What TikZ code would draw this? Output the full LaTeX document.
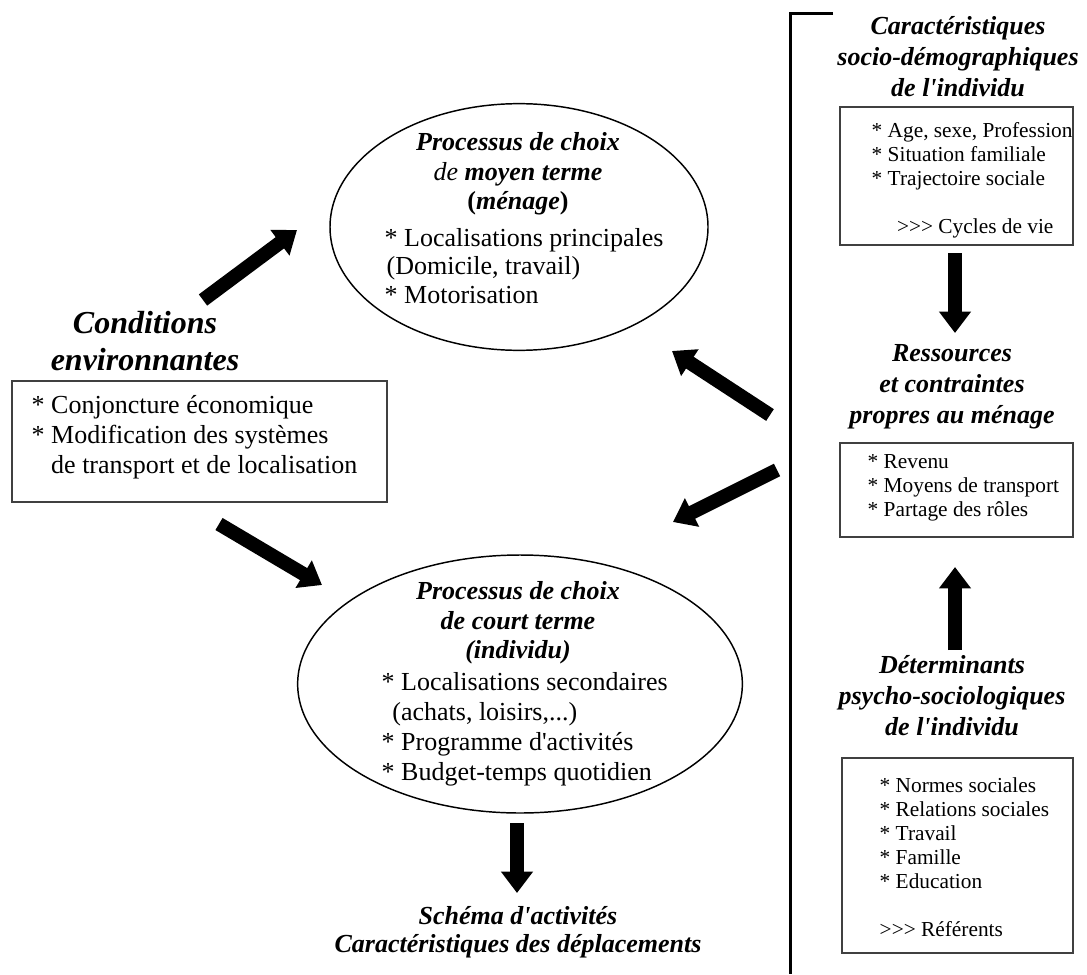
\documentclass[tikz,border=0pt]{standalone}
\usepackage{fontspec}
\setmainfont{Liberation Serif}[Ligatures=TeXOff]
\usetikzlibrary{arrows.meta,shapes.geometric,fit}

\tikzset{
  bigarrow/.style={line width=10.5pt,-{Triangle[width=23pt,length=16pt]}},
  hdtext/.style={font=\fontsize{19.5}{22}\selectfont\bfseries\itshape,align=center},
  rhdtext/.style={font=\fontsize{19.5}{23.2}\selectfont\bfseries\itshape,align=center},
  lsttext/.style={font=\fontsize{19.5}{21.5}\selectfont,align=left,anchor=west},
  smalltext/.style={font=\fontsize{16}{18}\selectfont,align=left,anchor=west},
  listbox/.style={draw=black!75,line width=0.8pt,inner sep=0pt},
  choix/.style={draw,ellipse,line width=1.1pt,inner sep=0pt}
}

\begin{document}
\begin{tikzpicture}[x=0.75pt,y=-0.75pt]
  \useasboundingbox (0,0) rectangle (1087,974);
  \def\colR{955};
  %
  % processus de choix
  \node[choix,minimum width=283.5pt,minimum height=185pt] (moyen) at (519,227) {};
  \node[hdtext] (moyenhd) at (518,174) {Processus de choix\\{\mdseries de} moyen terme\\{\upshape(}ménage{\upshape)}};
  \node[lsttext] (moyenlst) at (380,266) {* Localisations principales\\\hspace{1.5pt}(Domicile, travail)\\* Motorisation};
  \node[choix,minimum width=333.5pt,minimum height=193.5pt] (court) at (520,684) {};
  \node[hdtext] (courthd) at (518,623) {Processus de choix\\de court terme\\(individu)};
  \node[lsttext,font=\fontsize{19.5}{22.5}\selectfont] (courtlst) at (377,729) {* Localisations secondaires\\\hspace{8pt}(achats, loisirs,...)\\* Programme d'activités\\* Budget-temps quotidien};
  \node[hdtext,font=\fontsize{19.5}{21}\selectfont\bfseries\itshape] (schema) at (518,932) {Schéma d'activités\\Caractéristiques des déplacements};
  %
  % conditions environnantes
  \node[hdtext,font=\fontsize{24}{28}\selectfont\bfseries\itshape] (cond) at (145,341) {Conditions\\environnantes};
  \node[listbox,fit={(12,381) (387,502)}] (condbox) {};
  \node[lsttext,font=\fontsize{19.5}{22.5}\selectfont] (condlst) at (27,437) {* Conjoncture économique\\* Modification des systèmes\\\hphantom{*} de transport et de localisation};
  %
  % colonne de droite
  \draw[line width=2.25pt] (833,14) -- (790,14) -- (790,974);
  \node[rhdtext] (socio) at (958,57) {Caractéristiques\\socio-démographiques\\de l'individu};
  \node[listbox,fit={(840,107) (1073,245)}] (sociobox) {};
  \node[smalltext] (sociolst) at (867,180) {* Age, sexe, Profession\\* Situation familiale\\* Trajectoire sociale\\[18pt]\hspace{19pt}>>> Cycles de vie};
  \node[rhdtext] (ress) at (952,387) {Ressources\\et contraintes\\propres au ménage};
  \node[listbox,fit={(840,443) (1073,537)}] (ressbox) {};
  \node[smalltext] (resslst) at (863,488) {* Revenu\\* Moyens de transport\\* Partage des rôles};
  \node[rhdtext] (psycho) at (952,696) {Déterminants\\psycho-sociologiques\\de l'individu};
  \node[listbox,fit={(842,758) (1073,953)}] (psychobox) {};
  \node[smalltext] (psycholst) at (875,857) {* Normes sociales\\* Relations sociales\\* Travail\\* Famille\\* Education\\[18pt]>>> Référents};
  %
  % fleches
  \coordinate (neA) at (203,300);  \coordinate (neB) at (297,230);
  \coordinate (seA) at (219,524);  \coordinate (seB) at (322,585);
  \coordinate (nwA) at (770,415);  \coordinate (nwB) at (672,351);
  \coordinate (swA) at (777,470);  \coordinate (swB) at (673,522);
  \coordinate (dnA) at (\colR,253); \coordinate (dnB) at (\colR,333);
  \coordinate (upA) at (\colR,650); \coordinate (upB) at (\colR,567);
  \coordinate (outA) at (517,823); \coordinate (outB) at (517,893);
  \draw[bigarrow] (neA) -- (neB);
  \draw[bigarrow] (seA) -- (seB);
  \draw[bigarrow] (nwA) -- (nwB);
  \draw[bigarrow] (swA) -- (swB);
  \draw[bigarrow] (dnA) -- (dnB);
  \draw[bigarrow] (upA) -- (upB);
  \draw[bigarrow] (outA) -- (outB);
\end{tikzpicture}
\end{document}
